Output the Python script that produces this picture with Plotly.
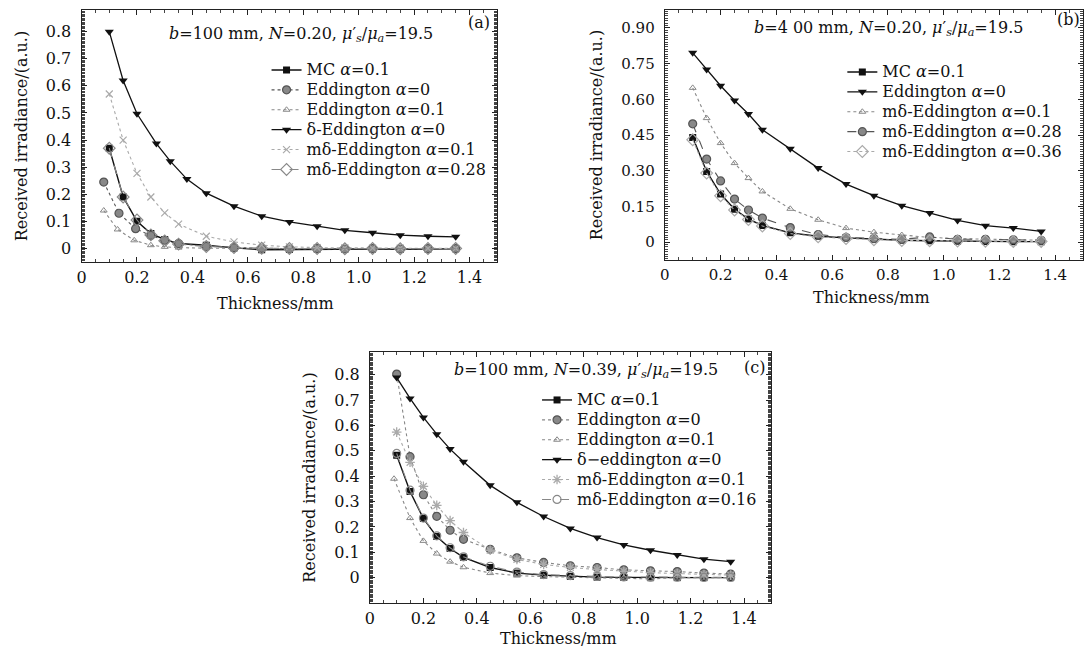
import plotly.graph_objects as go

W, H = 1084, 649
FONT = "DejaVu Serif"

# ---------------- data ----------------
# Panel (a): b=100 mm, N=0.20
a_x = [0.1, 0.15, 0.2, 0.25, 0.3, 0.35, 0.45, 0.55, 0.65, 0.75, 0.85, 0.95, 1.05, 1.15, 1.25, 1.35]
a_mc = [0.37, 0.19, 0.10, 0.055, 0.033, 0.018, 0.012, 0.002, -0.005, -0.004, -0.002, -0.003, -0.002, -0.003, -0.002, -0.001]
a_edd0_x = [0.08, 0.135, 0.195, 0.25, 0.3, 0.35, 0.45, 0.55, 0.65, 0.75, 0.85, 0.95, 1.05, 1.15, 1.25, 1.35]
a_edd0 = [0.245, 0.13, 0.073, 0.048, 0.03, 0.018, 0.008, 0.003, 0.0, -0.002, -0.001, -0.002, -0.001, -0.002, -0.001, -0.001]
a_edd1_x = [0.08, 0.13, 0.19, 0.25, 0.3, 0.35, 0.45, 0.55, 0.65, 0.75, 0.85, 0.95, 1.05, 1.15, 1.25, 1.35]
a_edd1 = [0.14, 0.07, 0.03, 0.012, 0.006, 0.003, 0.001, 0.0, 0.0, 0.0, 0.0, 0.0, 0.0, 0.0, 0.0, 0.0]
a_delta_x = [0.1, 0.15, 0.2, 0.27, 0.32, 0.38, 0.45, 0.55, 0.65, 0.75, 0.85, 0.95, 1.05, 1.15, 1.25, 1.35]
a_delta = [0.80, 0.62, 0.497, 0.387, 0.322, 0.256, 0.204, 0.156, 0.119, 0.098, 0.082, 0.067, 0.058, 0.049, 0.045, 0.043]
a_md1 = [0.57, 0.40, 0.277, 0.19, 0.131, 0.09, 0.045, 0.024, 0.012, 0.006, 0.003, 0.002, 0.001, 0.001, 0.0, 0.0]
a_md28 = [0.37, 0.19, 0.105, 0.05, 0.028, 0.016, 0.007, 0.003, 0.001, 0.0, 0.0, -0.001, 0.0, -0.001, 0.0, 0.0]

# Panel (b): b=400 mm, N=0.20
b_x = [0.1, 0.15, 0.2, 0.25, 0.3, 0.35, 0.45, 0.55, 0.65, 0.75, 0.85, 0.95, 1.05, 1.15, 1.25, 1.35]
b_mc = [0.44, 0.297, 0.202, 0.138, 0.097, 0.07, 0.039, 0.025, 0.018, 0.012, 0.008, 0.006, 0.004, 0.003, 0.002, 0.002]
b_edd0 = [0.795, 0.725, 0.657, 0.595, 0.538, 0.472, 0.392, 0.311, 0.244, 0.195, 0.153, 0.122, 0.091, 0.069, 0.059, 0.045]
b_md1 = [0.648, 0.521, 0.416, 0.332, 0.269, 0.213, 0.14, 0.094, 0.059, 0.042, 0.03, 0.02, 0.015, 0.012, 0.01, 0.008]
b_md28 = [0.497, 0.349, 0.257, 0.181, 0.135, 0.101, 0.061, 0.032, 0.02, 0.015, 0.012, 0.022, 0.012, 0.012, 0.01, 0.008]
b_md36 = [0.43, 0.29, 0.195, 0.135, 0.095, 0.068, 0.036, 0.022, 0.015, 0.01, 0.007, 0.006, 0.005, 0.004, 0.003, 0.003]

# Panel (c): b=100 mm, N=0.39
c_x = [0.1, 0.15, 0.2, 0.25, 0.3, 0.35, 0.45, 0.55, 0.65, 0.75, 0.85, 0.95, 1.05, 1.15, 1.25, 1.35]
c_mc = [0.483, 0.34, 0.233, 0.162, 0.115, 0.08, 0.04, 0.018, 0.01, 0.005, 0.002, 0.001, 0.0, 0.0, 0.0, 0.0]
c_edd0 = [0.803, 0.477, 0.327, 0.242, 0.187, 0.151, 0.112, 0.078, 0.06, 0.047, 0.04, 0.031, 0.027, 0.024, 0.018, 0.014]
c_edd1_x = [0.09, 0.15, 0.2, 0.25, 0.3, 0.35, 0.45, 0.55, 0.65, 0.75, 0.85, 0.95, 1.05, 1.15, 1.25, 1.35]
c_edd1 = [0.39, 0.235, 0.145, 0.095, 0.063, 0.041, 0.018, 0.008, 0.004, 0.002, 0.001, 0.0, -0.005, 0.0, 0.0, 0.0]
c_delta = [0.789, 0.707, 0.632, 0.566, 0.507, 0.457, 0.364, 0.297, 0.241, 0.194, 0.158, 0.129, 0.108, 0.089, 0.073, 0.063]
c_md1 = [0.574, 0.455, 0.36, 0.285, 0.225, 0.178, 0.108, 0.072, 0.052, 0.04, 0.032, 0.025, 0.02, 0.016, 0.012, 0.01]
c_md16 = [0.49, 0.345, 0.235, 0.165, 0.118, 0.082, 0.045, 0.022, 0.012, 0.008, 0.005, 0.003, 0.002, 0.002, 0.001, 0.001]

x_ticks = [0, 0.2, 0.4, 0.6, 0.8, 1.0, 1.2, 1.4]
x_ticktext = ["0", "0.2", "0.4", "0.6", "0.8", "1.0", "1.2", "1.4"]
ya_ticks = [0, 0.1, 0.2, 0.3, 0.4, 0.5, 0.6, 0.7, 0.8]
ya_ticktext = ["0", "0.1", "0.2", "0.3", "0.4", "0.5", "0.6", "0.7", "0.8"]
yb_ticks = [0, 0.15, 0.30, 0.45, 0.60, 0.75, 0.90]
yb_ticktext = ["0", "0.15", "0.30", "0.45", "0.60", "0.75", "0.90"]

# ---------------- helpers ----------------
def px(v):
    return v / W

def py(v):
    return 1 - v / H

BLACK = "#111111"
DARK = "#555555"
GRAY = "#888888"
LIGHT = "#aaaaaa"

def sq(): return dict(symbol="square", size=7, color=BLACK)
def tri_dn(): return dict(symbol="triangle-down", size=8, color=BLACK)
def tri_up(c=GRAY): return dict(symbol="triangle-up-open", size=6, color=c, line=dict(width=1, color=c))
def hatch(c=GRAY, lc=DARK): return dict(symbol="circle", size=8, color=c, line=dict(width=1.2, color=lc))
def diam(c=GRAY): return dict(symbol="diamond-open", size=9, color=c, line=dict(width=1.2, color=c))
def ocirc(c=GRAY): return dict(symbol="circle-open", size=8, color=c, line=dict(width=1.2, color=c))
def xmark(): return dict(symbol="x-thin-open", size=7, color=LIGHT, line=dict(width=1.2, color=LIGHT))
def star(): return dict(symbol="asterisk-open", size=8, color=LIGHT, line=dict(width=1.3, color=LIGHT))

LEG_TXT = 16

def lbl(t):
    return '<span style="font-size:%dpx">%s</span>' % (LEG_TXT, t)

fig = go.Figure()

def add(x, y, name, marker, lcolor, dash, xa, ya, legend, lw=1.1):
    fig.add_trace(go.Scatter(
        x=x, y=y, name=lbl(name), mode="lines+markers",
        line=dict(color=lcolor, width=lw, dash=dash),
        marker=marker, xaxis=xa, yaxis=ya, legend=legend))

A = "<i>α</i>"
# Panel (a)
add(a_x, a_mc, "MC " + A + "=0.1", sq(), BLACK, "solid", "x", "y", "legend", 1.4)
add(a_edd0_x, a_edd0, "Eddington " + A + "=0", hatch(), DARK, "dot", "x", "y", "legend")
add(a_edd1_x, a_edd1, "Eddington " + A + "=0.1", tri_up(), GRAY, "dot", "x", "y", "legend")
add(a_delta_x, a_delta, "δ-Eddington " + A + "=0", tri_dn(), BLACK, "solid", "x", "y", "legend", 1.3)
add(a_x, a_md1, "mδ-Eddington " + A + "=0.1", xmark(), LIGHT, "dot", "x", "y", "legend")
add(a_x, a_md28, "mδ-Eddington " + A + "=0.28", diam(), GRAY, "dash", "x", "y", "legend")

# Panel (b)
add(b_x, b_mc, "MC " + A + "=0.1", sq(), BLACK, "solid", "x2", "y2", "legend2", 1.4)
add(b_x, b_edd0, "Eddington " + A + "=0", tri_dn(), BLACK, "solid", "x2", "y2", "legend2", 1.3)
add(b_x, b_md1, "mδ-Eddington " + A + "=0.1", tri_up(), GRAY, "dot", "x2", "y2", "legend2")
add(b_x, b_md28, "mδ-Eddington " + A + "=0.28", hatch(), DARK, "dash", "x2", "y2", "legend2")
add(b_x, b_md36, "mδ-Eddington " + A + "=0.36", diam(LIGHT), LIGHT, "dot", "x2", "y2", "legend2")

# Panel (c)
add(c_x, c_mc, "MC " + A + "=0.1", sq(), BLACK, "solid", "x3", "y3", "legend3", 1.4)
add(c_x, c_edd0, "Eddington " + A + "=0", hatch(), GRAY, "dot", "x3", "y3", "legend3")
add(c_edd1_x, c_edd1, "Eddington " + A + "=0.1", tri_up(), GRAY, "dot", "x3", "y3", "legend3")
add(c_x, c_delta, "δ−eddington " + A + "=0", tri_dn(), BLACK, "solid", "x3", "y3", "legend3", 1.3)
add(c_x, c_md1, "mδ-Eddington " + A + "=0.1", star(), LIGHT, "dot", "x3", "y3", "legend3")
add(c_x, c_md16, "mδ-Eddington " + A + "=0.16", ocirc(), GRAY, "dash", "x3", "y3", "legend3")

titlefont = dict(family=FONT, size=16, color="#111")

def xaxis(domain, anchor, tsize=16):
    return dict(domain=domain, anchor=anchor, range=[0, 1.5], tickvals=x_ticks, ticktext=x_ticktext,
                showline=True, linecolor="#222", linewidth=1.2, mirror="ticks", ticks="inside",
                ticklen=5, tickcolor="#222", showgrid=False, zeroline=False,
                tickfont=dict(family=FONT, size=tsize, color="#111"),
                ticklabelstandoff=1,
                minor=dict(ticks="inside", ticklen=3, dtick=0.05, tickcolor="#444", showgrid=False))

def yaxis(domain, anchor, rng, tv, tt, tsize=16):
    return dict(domain=domain, anchor=anchor, range=rng, tickvals=tv, ticktext=tt,
                showline=True, linecolor="#222", linewidth=1.2, mirror="ticks", ticks="inside",
                ticklen=5, tickcolor="#222", showgrid=False, zeroline=False,
                tickfont=dict(family=FONT, size=tsize, color="#111"),
                ticklabelstandoff=6,
                minor=dict(ticks="inside", ticklen=3, nticks=40, tickcolor="#444", showgrid=False),
                title=dict(text="Received irradiance/(a.u.)", font=titlefont, standoff=14))

legend_common = dict(font=dict(family=FONT, size=13, color="#111"), bgcolor="rgba(0,0,0,0)",
                     xanchor="left", yanchor="top", tracegroupgap=0, itemwidth=30,
                     traceorder="normal")

fig.update_layout(
    width=W, height=H, margin=dict(l=0, r=0, t=0, b=0),
    paper_bgcolor="white", plot_bgcolor="white",
    font=dict(family=FONT, color="#111"),
    xaxis=xaxis([px(77), px(495)], "y"),
    yaxis=yaxis([py(262), py(10)], "x", [-0.05, 0.88], ya_ticks, ya_ticktext),
    xaxis2=xaxis([px(663.5), 1.0], "y2", 15),
    yaxis2=yaxis([py(260), py(10)], "x2", [-0.075, 0.975], yb_ticks, yb_ticktext, 15),
    xaxis3=xaxis([px(367), px(770)], "y3"),
    yaxis3=yaxis([py(603), py(352)], "x3", [-0.1, 0.89], ya_ticks, ya_ticktext),
    legend=dict(x=px(263), y=py(55), **legend_common),
    legend2=dict(x=px(842), y=py(57), **legend_common),
    legend3=dict(x=px(535), y=py(385), **legend_common),
)

mu = "<i>b</i>={b} mm, <i>N</i>={n}, <i>μ</i>′<sub><i>s</i></sub>/<i>μ</i><sub><i>a</i></sub>=19.5"
XT = "Thickness/mm"
ann = [
    (px(298), py(34), mu.format(b="100", n="0.20"), "center"),
    (px(888), py(28), mu.format(b="4 00", n="0.20"), "center"),
    (px(584), py(370), mu.format(b="100", n="0.39"), "center"),
    (px(490), py(23), "(a)", "right"),
    (px(1083), py(19), "(b)", "right"),
    (px(766), py(367), "(c)", "right"),
    (px(272), py(303), XT, "center"),
    (px(871), py(298), XT, "center"),
    (px(557), py(638), XT, "center"),
]
for x, y, t, xa in ann:
    fig.add_annotation(x=x, y=y, xref="paper", yref="paper", text=t, showarrow=False,
                       font=dict(family=FONT, size=16, color="#111"), xanchor=xa, yanchor="middle")

fig.write_html("out.html", config={"displayModeBar": False},
               post_script="document.body.style.margin='0';document.body.style.overflow='hidden';")
